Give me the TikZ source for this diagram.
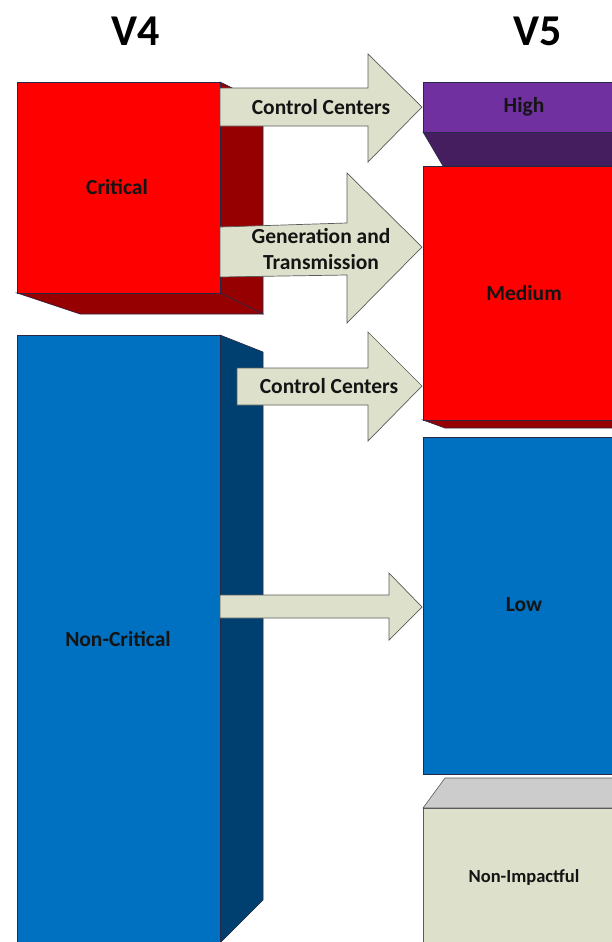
\documentclass[tikz,border=0pt]{standalone}
\usepackage{fontspec}
\setmainfont{Carlito}
\definecolor{cRed}{RGB}{255,0,0}
\definecolor{cRedD}{RGB}{150,0,0}
\definecolor{cBlue}{RGB}{0,112,192}
\definecolor{cBlueD}{RGB}{0,64,112}
\definecolor{cPur}{RGB}{112,48,160}
\definecolor{cPurD}{RGB}{68,30,94}
\definecolor{cBeige}{RGB}{221,225,203}
\definecolor{cGray}{RGB}{204,204,204}
\definecolor{cLine}{RGB}{40,40,70}
\definecolor{cArrLine}{RGB}{90,90,90}
\definecolor{cText}{RGB}{20,20,20}
\tikzset{
  face/.style={draw=cLine, line width=0.6pt},
  boxnode/.style={face, rectangle, inner sep=0pt},
  boxlabel/.style={font=\bfseries\fontsize{21.5}{24}\selectfont, text=cText, inner sep=0pt},
  arrowshape/.style={draw=cArrLine, fill=cBeige, line width=0.7pt, line join=miter},
  arrlabel/.style={font=\bfseries\fontsize{21.5}{26}\selectfont, text=cText, align=center, inner sep=0pt},
  title/.style={font=\bfseries\fontsize{44}{48}\selectfont, inner sep=0pt}
}
\begin{document}
\begin{tikzpicture}[x=1pt,y=-1pt]
\useasboundingbox (0,0) rectangle (612,942);
\clip (0,0) rectangle (612,942);
% titles
\node[title] (v4) at (136,31) {V4};
\node[title] (v5) at (538,31) {V5};
% Critical box
\draw[face, fill=cRedD] (220,82) -- (263,103) -- (263,314) -- (220,293) -- cycle;
\draw[face, fill=cRedD] (17,293) -- (220,293) -- (263,314) -- (80,314) -- cycle;
\node[boxnode, fill=cRed, minimum width=203pt, minimum height=211pt] (crit) at (118.5,187.5) {};
\node[boxlabel] (critl) at (117,187) {Critical};
% Non-Critical box
\draw[face, fill=cBlueD] (220,335) -- (263,352) -- (263,900) -- (220,943) -- cycle;
\node[boxnode, fill=cBlue, minimum width=203pt, minimum height=620pt] (ncrit) at (118.5,645) {};
\node[boxlabel] (ncritl) at (118,639) {Non-Critical};
% High
\draw[face, fill=cPurD] (423,132) -- (640,132) -- (640,166) -- (443,166) -- cycle;
\node[boxnode, fill=cPur, minimum width=217pt, minimum height=50pt, anchor=north west] (high) at (423,82) {};
\node[boxlabel] (highl) at (524,107) {High};
% Medium
\draw[face, fill=cRedD] (423,420) -- (640,420) -- (640,428) -- (445,428) -- cycle;
\node[boxnode, fill=cRed, minimum width=217pt, minimum height=254pt, anchor=north west] (med) at (423,166) {};
\node[boxlabel] (medl) at (524,293) {Medium};
% Low
\node[boxnode, fill=cBlue, minimum width=217pt, minimum height=337pt, anchor=north west] (low) at (423,437) {};
\node[boxlabel] (lowl) at (524,605) {Low};
% Non-Impactful
\draw[draw=cArrLine, line width=0.6pt, fill=cGray] (423,808) -- (445,778) -- (640,778) -- (640,808) -- cycle;
\node[draw=cArrLine, line width=0.6pt, fill=cBeige, minimum width=217pt, minimum height=140pt, anchor=north west, inner sep=0pt] (nonimp) at (423,808) {};
\node[font=\bfseries\fontsize{18.5}{20}\selectfont, text=cText, inner sep=0pt] (nonimpl) at (524,877) {Non-Impactful};
% Arrows
\draw[arrowshape] (220,88) -- (368,88) -- (368,54) -- (422,107) -- (368,162) -- (368,126) -- (220,126) -- cycle;
\node[arrlabel] (a1) at (321,107) {Control Centers};
\draw[arrowshape] (220,227) -- (347,223) -- (347,173) -- (422,247) -- (347,323) -- (347,275) -- (220,277) -- cycle;
\node[arrlabel] (a2) at (321,249) {Generation and\\Transmission};
\draw[arrowshape] (237,368) -- (368,368) -- (368,332) -- (422,386) -- (368,441) -- (368,405) -- (237,405) -- cycle;
\node[arrlabel] (a3) at (329,386) {Control Centers};
\draw[arrowshape] (220,595) -- (389,595) -- (389,573) -- (422,607) -- (389,640) -- (389,618) -- (220,618) -- cycle;
\end{tikzpicture}
\end{document}
